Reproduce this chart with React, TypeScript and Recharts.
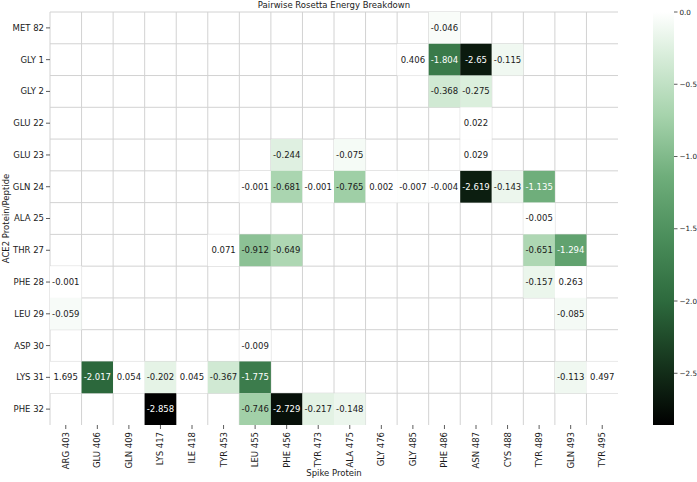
import { ScatterChart, Scatter, XAxis, YAxis, CartesianGrid } from 'recharts';

const spikeResidues = [
  'ARG 403', 'GLU 406', 'GLN 409', 'LYS 417', 'ILE 418', 'TYR 453', 'LEU 455', 'PHE 456', 'TYR 473',
  'ALA 475', 'GLY 476', 'GLY 485', 'PHE 486', 'ASN 487', 'CYS 488', 'TYR 489', 'GLN 493', 'TYR 495',
];

const ace2Residues = [
  'MET 82', 'GLY 1', 'GLY 2', 'GLU 22', 'GLU 23', 'GLN 24', 'ALA 25',
  'THR 27', 'PHE 28', 'LEU 29', 'ASP 30', 'LYS 31', 'PHE 32',
];

// [ace2 residue, spike residue, energy]
const energies: [string, string, number][] = [
  ['MET 82', 'PHE 486', -0.046],
  ['GLY 1', 'GLY 485', 0.406],
  ['GLY 1', 'PHE 486', -1.804],
  ['GLY 1', 'ASN 487', -2.65],
  ['GLY 1', 'CYS 488', -0.115],
  ['GLY 2', 'PHE 486', -0.368],
  ['GLY 2', 'ASN 487', -0.275],
  ['GLU 22', 'ASN 487', 0.022],
  ['GLU 23', 'PHE 456', -0.244],
  ['GLU 23', 'ALA 475', -0.075],
  ['GLU 23', 'ASN 487', 0.029],
  ['GLN 24', 'LEU 455', -0.001],
  ['GLN 24', 'PHE 456', -0.681],
  ['GLN 24', 'TYR 473', -0.001],
  ['GLN 24', 'ALA 475', -0.765],
  ['GLN 24', 'GLY 476', 0.002],
  ['GLN 24', 'GLY 485', -0.007],
  ['GLN 24', 'PHE 486', -0.004],
  ['GLN 24', 'ASN 487', -2.619],
  ['GLN 24', 'CYS 488', -0.143],
  ['GLN 24', 'TYR 489', -1.135],
  ['ALA 25', 'TYR 489', -0.005],
  ['THR 27', 'TYR 453', 0.071],
  ['THR 27', 'LEU 455', -0.912],
  ['THR 27', 'PHE 456', -0.649],
  ['THR 27', 'TYR 489', -0.651],
  ['THR 27', 'GLN 493', -1.294],
  ['PHE 28', 'ARG 403', -0.001],
  ['PHE 28', 'TYR 489', -0.157],
  ['PHE 28', 'GLN 493', 0.263],
  ['LEU 29', 'ARG 403', -0.059],
  ['LEU 29', 'GLN 493', -0.085],
  ['ASP 30', 'LEU 455', -0.009],
  ['LYS 31', 'ARG 403', 1.695],
  ['LYS 31', 'GLU 406', -2.017],
  ['LYS 31', 'GLN 409', 0.054],
  ['LYS 31', 'LYS 417', -0.202],
  ['LYS 31', 'ILE 418', 0.045],
  ['LYS 31', 'TYR 453', -0.367],
  ['LYS 31', 'LEU 455', -1.775],
  ['LYS 31', 'GLN 493', -0.113],
  ['LYS 31', 'TYR 495', 0.497],
  ['PHE 32', 'LYS 417', -2.858],
  ['PHE 32', 'LEU 455', -0.746],
  ['PHE 32', 'PHE 456', -2.729],
  ['PHE 32', 'TYR 473', -0.217],
  ['PHE 32', 'ALA 475', -0.148],
];

const colorbarTicks = [0, -0.5, -1, -1.5, -2, -2.5];

const WIDTH = 697;
const HEIGHT = 482;
const MARGIN = { top: 12, right: 79, left: 0, bottom: 0 };
const Y_AXIS_W = 50;
const X_AXIS_H = 57;
const plotW = WIDTH - MARGIN.left - MARGIN.right - Y_AXIS_W;
const plotH = HEIGHT - MARGIN.top - MARGIN.bottom - X_AXIS_H;
const cellW = plotW / spikeResidues.length;
const cellH = plotH / ace2Residues.length;

const vMax = 0;
const vMin = Math.min(...energies.map((e) => e[2]));

// white -> green -> black
const colorStops: [number, number[]][] = [
  [0, [255, 255, 255]],
  [0.1, [218, 238, 220]],
  [0.25, [166, 211, 172]],
  [0.4, [110, 173, 122]],
  [0.55, [74, 141, 90]],
  [0.7, [45, 106, 61]],
  [0.85, [22, 53, 29]],
  [1, [0, 0, 0]],
];

const colorAt = (t: number) => {
  const c = Math.min(1, Math.max(0, t));
  for (let i = 1; i < colorStops.length; i++) {
    const [t1, c1] = colorStops[i];
    const [t0, c0] = colorStops[i - 1];
    if (c <= t1) {
      const f = (c - t0) / (t1 - t0);
      const rgb = c0.map((v, k) => Math.round(v + (c1[k] - v) * f));
      return `rgb(${rgb.join(',')})`;
    }
  }
  return 'rgb(0,0,0)';
};

const energyColor = (v: number) => colorAt((vMax - v) / (vMax - vMin));

const cells = energies.map(([row, col, v]) => ({
  x: spikeResidues.indexOf(col) + 0.5,
  y: ace2Residues.indexOf(row) + 0.5,
  value: v,
}));

const HeatCell = (props: any) => {
  const { cx, cy, payload } = props;
  const v = payload.value as number;
  return (
    <g>
      <rect x={cx - cellW / 2} y={cy - cellH / 2} width={cellW} height={cellH} fill={energyColor(v)} />
      <text
        x={cx}
        y={cy}
        dy="0.35em"
        textAnchor="middle"
        fontSize={8.5}
        fill={v < -1 ? '#ffffff' : '#1a1a1a'}
      >
        {String(v)}
      </text>
    </g>
  );
};

const SpikeTick = (props: any) => {
  const { x, y, payload } = props;
  return (
    <text
      transform={`translate(${x},${y}) rotate(-90)`}
      textAnchor="end"
      dy="0.35em"
      fontSize={8.5}
      fill="#1a1a1a"
    >
      {spikeResidues[Math.floor(payload.value)]}
    </text>
  );
};

const Ace2Tick = (props: any) => {
  const { x, y, payload } = props;
  return (
    <text x={x} y={y} dy="0.35em" textAnchor="end" fontSize={8.5} fill="#1a1a1a">
      {ace2Residues[Math.floor(payload.value)]}
    </text>
  );
};

// grid lines on the cell boundaries (left and top edges of every cell)
const verticalGrid = ({ offset }: any) =>
  spikeResidues.map((_, i) => offset.left + (i * offset.width) / spikeResidues.length);
const horizontalGrid = ({ offset }: any) =>
  ace2Residues.map((_, i) => offset.top + (i * offset.height) / ace2Residues.length);

const Overlay = () => {
  const x = 653;
  const w = 21;
  const top = MARGIN.top;
  const h = plotH;
  const yOf = (v: number) => top + ((vMax - v) / (vMax - vMin)) * h;
  return (
    <svg width={WIDTH} height={HEIGHT} style={{ position: 'absolute', left: 0, top: 0, pointerEvents: 'none' }}>
      <defs>
        <linearGradient id="energyGrad" x1="0" y1="0" x2="0" y2="1">
          {colorStops.map(([t]) => (
            <stop key={t} offset={t} stopColor={colorAt(t)} />
          ))}
        </linearGradient>
      </defs>
      <text x={MARGIN.left + Y_AXIS_W + plotW / 2} y={8} textAnchor="middle" fontSize={8.5} fill="#1a1a1a">
        Pairwise Rosetta Energy Breakdown
      </text>
      <text
        transform={`translate(6,${top + h / 2}) rotate(-90)`}
        textAnchor="middle"
        dy="0.35em"
        fontSize={8.5}
        fill="#1a1a1a"
      >
        ACE2 Protein/Peptide
      </text>
      <rect x={x} y={top} width={w} height={h} fill="url(#energyGrad)" />
      {colorbarTicks.map((t) => (
        <g key={t}>
          <line x1={x + w} x2={x + w + 3.5} y1={yOf(t)} y2={yOf(t)} stroke="#333" strokeWidth={0.8} />
          <text x={x + w + 5.5} y={yOf(t)} dy="0.35em" fontSize={7.2} fill="#1a1a1a">
            {t === 0 ? '0.0' : `\u2212${Math.abs(t).toFixed(1)}`}
          </text>
        </g>
      ))}
    </svg>
  );
};

const App = () => {
  return (
    <div style={{ position: 'absolute', left: 0, top: 0, width: WIDTH, height: HEIGHT, background: '#fff', fontFamily: 'DejaVu Sans' }}>
      <ScatterChart width={WIDTH} height={HEIGHT} margin={MARGIN}>
        <CartesianGrid
          stroke="#d2d2d2"
          strokeWidth={1}
          verticalCoordinatesGenerator={verticalGrid}
          horizontalCoordinatesGenerator={horizontalGrid}
        />
        <XAxis
          type="number"
          dataKey="x"
          domain={[0, spikeResidues.length]}
          ticks={spikeResidues.map((_, i) => i + 0.5)}
          interval={0}
          height={X_AXIS_H}
          axisLine={false}
          tickSize={4}
          tickMargin={3}
          tickLine={{ stroke: '#333', strokeWidth: 0.8 }}
          tick={<SpikeTick />}
          label={{ value: 'Spike Protein', position: 'insideBottom', offset: 6, fontSize: 8.5, fill: '#1a1a1a' }}
        />
        <YAxis
          type="number"
          dataKey="y"
          domain={[0, ace2Residues.length]}
          ticks={ace2Residues.map((_, i) => i + 0.5)}
          interval={0}
          reversed
          width={Y_AXIS_W}
          axisLine={false}
          tickSize={4}
          tickMargin={2}
          tickLine={{ stroke: '#333', strokeWidth: 0.8 }}
          tick={<Ace2Tick />}
        />
        <Scatter data={cells} shape={<HeatCell />} isAnimationActive={false} />
      </ScatterChart>
      <Overlay />
    </div>
  );
};

export default App;
